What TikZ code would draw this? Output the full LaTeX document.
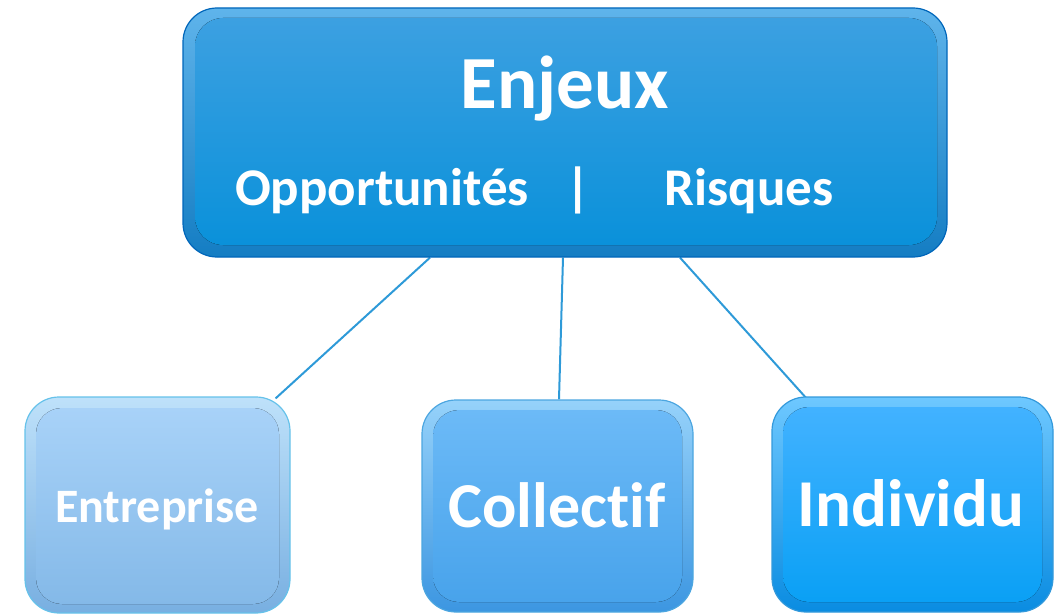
\documentclass[tikz,border=0pt]{standalone}
\usepackage{fontspec}
\setmainfont[Ligatures=NoCommon]{Carlito}
\usetikzlibrary{calc,backgrounds}
\definecolor{linec}{HTML}{2E9AD8}
\tikzset{
  x=1pt,y=-1pt,
  boxouter/.style={rounded corners=34pt, draw=#1, line width=1.2pt},
  lbl/.style={text=white, font=\bfseries, inner sep=0pt, anchor=base},
  conn/.style={draw=linec, line width=2pt}
}
\begin{document}
\begin{tikzpicture}
\useasboundingbox (0,0) rectangle (1061,615);
% top box
\node[boxouter=black!45!blue!60!cyan, minimum width=764pt, minimum height=249pt, top color={rgb,255:red,95;green,180;blue,235}, bottom color={rgb,255:red,20;green,125;blue,195}] (top) at (565,132.5) {};
\fill[rounded corners=28pt, top color={rgb,255:red,60;green,160;blue,225}, bottom color={rgb,255:red,10;green,145;blue,218}] (195,18) rectangle (937,245);
\node[lbl, font=\bfseries\fontsize{75}{77}\selectfont] (enj) at (565,109) {Enjeux};
\node[lbl, font=\bfseries\fontsize{53}{55}\selectfont] (opp) at (382,205) {Opportunités};
\node[lbl, font=\bfseries\fontsize{53}{55}\selectfont] (bar) at (578,205) {|};
\node[lbl, font=\bfseries\fontsize{53}{55}\selectfont] (ris) at (749,205) {Risques};
% Entreprise
\node[boxouter=black!35!blue!40!cyan!60, minimum width=265pt, minimum height=216pt, top color={rgb,255:red,190;green,225;blue,250}, bottom color={rgb,255:red,120;green,175;blue,225}] (ent) at (157.5,505) {};
\fill[rounded corners=26pt, top color={rgb,255:red,168;green,210;blue,248}, bottom color={rgb,255:red,132;green,185;blue,232}] (36,408) rectangle (279,604);
\node[lbl, font=\bfseries\fontsize{48}{50}\selectfont] (entt) at (157,522) {Entreprise};
% Collectif
\node[boxouter=black!35!blue!50!cyan!70, minimum width=271pt, minimum height=212pt, top color={rgb,255:red,150;green,210;blue,250}, bottom color={rgb,255:red,60;green,150;blue,225}] (col) at (557.5,506) {};
\fill[rounded corners=26pt, top color={rgb,255:red,108;green,186;blue,247}, bottom color={rgb,255:red,72;green,163;blue,235}] (433,410) rectangle (682,602);
\node[lbl, font=\bfseries\fontsize{64}{66}\selectfont] (colt) at (557,527) {Collectif};
% Individu
\node[boxouter=black!35!blue!50!cyan!80, minimum width=281pt, minimum height=215pt, top color={rgb,255:red,110;green,200;blue,255}, bottom color={rgb,255:red,10;green,140;blue,225}] (ind) at (912.5,504.5) {};
\fill[rounded corners=26pt, top color={rgb,255:red,66;green,178;blue,255}, bottom color={rgb,255:red,10;green,160;blue,245}] (783,407) rectangle (1042,602);
\node[lbl, font=\bfseries\fontsize{67}{69}\selectfont] (indt) at (911,526) {Individu};
% connectors
\begin{pgfonlayer}{background}
\draw[conn] ($(top.south)+(-135,0)$) -- ($(ent.north east)+(-15,2)$);
\draw[conn] ($(top.south)+(-2,0)$) -- ($(col.north)+(1.5,0)$);
\draw[conn] ($(top.south)+(115,0)$) -- ($(ind.north west)+(36,3)$);
\end{pgfonlayer}
\end{tikzpicture}
\end{document}
